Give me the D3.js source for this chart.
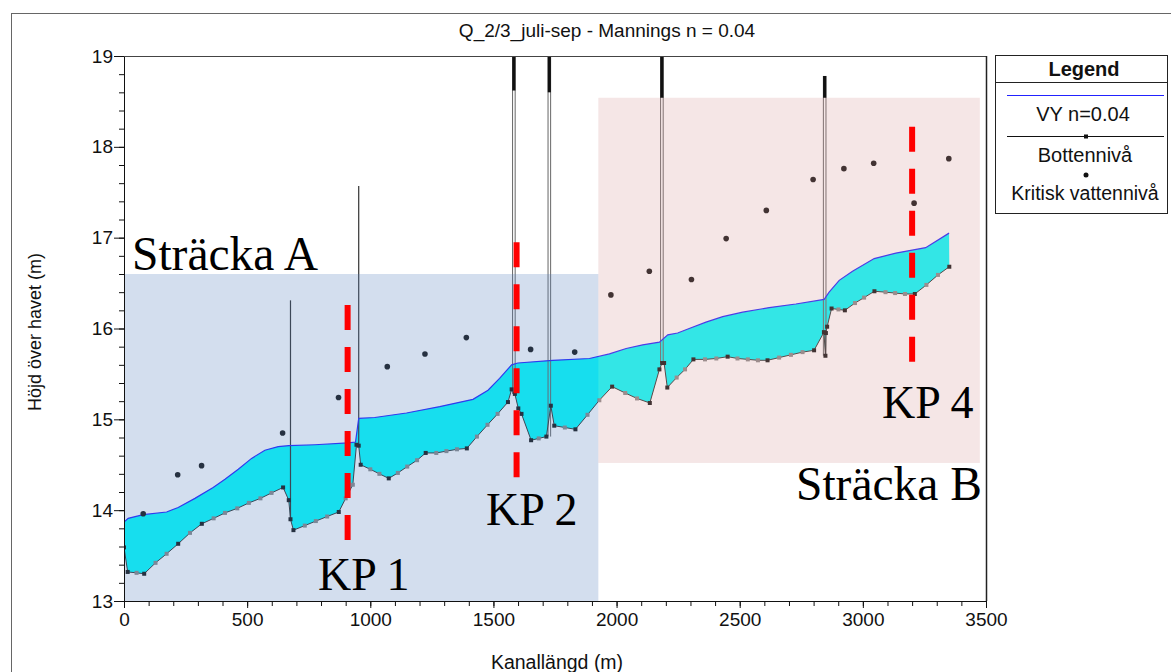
<!DOCTYPE html>
<html>
<head>
<meta charset="utf-8">
<script src="https://cdn.jsdelivr.net/npm/d3@7"></script>
<style>
  html, body { margin: 0; padding: 0; background: #fff; }
  svg { display: block; font-family: "Liberation Sans", Arial, sans-serif; }
</style>
</head>
<body>
<svg id="chart" width="1171" height="672"></svg>
<script>
// ---- Longitudinal profile data (chainage in m, level in m above sea) ----
const waterX = [0, 17, 78, 173, 220, 288, 362, 410, 464, 518, 572, 626, 669, 775, 910, 940, 953, 1018, 1147, 1282, 1417, 1478, 1525, 1574, 1599, 1741, 1890, 1971, 2039, 2106, 2174, 2208, 2248, 2295, 2363, 2431, 2512, 2620, 2728, 2843, 2863, 2904, 2958, 3046, 3134, 3255, 3350];
const waterY = [13.87, 13.91, 13.95, 13.98, 14.03, 14.13, 14.25, 14.34, 14.45, 14.57, 14.66, 14.70, 14.71, 14.72, 14.74, 14.75, 15.01, 15.02, 15.07, 15.14, 15.22, 15.32, 15.45, 15.60, 15.62, 15.65, 15.67, 15.72, 15.78, 15.82, 15.85, 15.93, 15.95, 16.00, 16.07, 16.13, 16.18, 16.23, 16.27, 16.32, 16.40, 16.53, 16.63, 16.77, 16.83, 16.89, 17.05];

const bottomX = [0, 15, 51, 82, 128, 173, 220, 268, 316, 364, 410, 460, 507, 554, 599, 646, 669, 676, 688, 734, 779, 825, 872, 900, 929, 944, 953, 961, 1000, 1037, 1075, 1112, 1150, 1190, 1225, 1268, 1309, 1352, 1392, 1433, 1476, 1517, 1559, 1574, 1587, 1601, 1614, 1653, 1684, 1715, 1733, 1747, 1790, 1833, 1882, 1930, 1982, 2035, 2083, 2135, 2174, 2185, 2193, 2206, 2244, 2278, 2312, 2359, 2405, 2451, 2491, 2533, 2574, 2613, 2660, 2708, 2755, 2802, 2842, 2848, 2850, 2855, 2873, 2901, 2927, 2968, 3005, 3047, 3092, 3131, 3171, 3211, 3258, 3305, 3351];
const bottomY = [13.59, 13.32, 13.31, 13.30, 13.42, 13.52, 13.63, 13.75, 13.85, 13.91, 13.97, 14.02, 14.08, 14.13, 14.19, 14.25, 14.11, 13.90, 13.78, 13.83, 13.88, 13.93, 13.98, 14.13, 14.28, 14.72, 14.71, 14.50, 14.45, 14.40, 14.35, 14.41, 14.48, 14.55, 14.63, 14.63, 14.65, 14.67, 14.68, 14.81, 14.94, 15.06, 15.19, 15.33, 15.28, 15.12, 15.06, 14.77, 14.79, 14.81, 15.15, 14.93, 14.91, 14.89, 15.05, 15.21, 15.36, 15.29, 15.23, 15.18, 15.55, 15.62, 15.62, 15.35, 15.46, 15.55, 15.66, 15.66, 15.67, 15.69, 15.67, 15.66, 15.65, 15.65, 15.68, 15.71, 15.74, 15.76, 15.96, 15.70, 15.95, 16.02, 16.22, 16.21, 16.20, 16.28, 16.34, 16.41, 16.40, 16.39, 16.38, 16.38, 16.48, 16.59, 16.68];
// 1 = surveyed cross section, 0 = interpolated section
const bottomSurveyed = [1, 1, 0, 1, 0, 0, 1, 0, 1, 0, 0, 0, 0, 0, 0, 1, 1, 1, 1, 0, 0, 0, 1, 0, 0, 1, 1, 1, 0, 0, 1, 0, 0, 0, 1, 0, 0, 0, 1, 0, 0, 0, 1, 1, 1, 1, 1, 1, 0, 1, 1, 1, 0, 1, 0, 0, 1, 0, 0, 1, 1, 1, 1, 1, 0, 0, 1, 0, 0, 1, 0, 0, 0, 1, 0, 0, 0, 1, 1, 1, 1, 1, 1, 0, 1, 0, 0, 1, 0, 0, 0, 1, 0, 0, 1];

const criticalX = [78, 218, 315, 644, 871, 1069, 1222, 1390, 1651, 1830, 1977, 2133, 2304, 2445, 2608, 2798, 2923, 3044, 3208, 3349];
const criticalY = [13.96, 14.39, 14.49, 14.85, 15.24, 15.58, 15.72, 15.90, 15.77, 15.74, 16.37, 16.63, 16.54, 16.99, 17.30, 17.64, 17.76, 17.82, 17.38, 17.87];

// Structures (bridges / culverts) along the canal
const structX = [676, 953, 1583, 1727, 2184, 2845];
const structBottom = [13.90, 14.71, 15.28, 14.81, 15.62, 15.70];
const structTop = [16.31, 17.57, 19.2, 19.2, 19.2, 18.78];
const structCap = [null, null, 18.62, 18.60, 18.54, 18.54];
const structDouble = [false, false, true, true, true, true];

// Reaches and control points
const reachNames = ["Sträcka A", "Sträcka B"];
const reachX0 = [0, 1926];
const reachX1 = [1926, 3475];
const reachY0 = [13, 14.52];
const reachY1 = [16.60, 18.54];

const kpNames = ["KP 1", "KP 2", "KP 4"];
const kpX = [908, 1594, 3200];
const kpTop = [16.26, 16.95, 18.22];
const kpBottom = [13.67, 14.36, 15.63];

const xTicks = [0, 500, 1000, 1500, 2000, 2500, 3000, 3500];
const yTicks = [13, 14, 15, 16, 17, 18, 19];

const titleText = "Q_2/3_juli-sep - Mannings n = 0.04";
const legendItems = ["VY n=0.04", "Bottennivå", "Kritisk vattennivå"];

// ---- Layout ----
const sans = "'Liberation Sans', Arial, sans-serif";
const serif = "'Liberation Serif', 'Times New Roman', serif";
const svg = d3.select("#chart");
const x = d3.scaleLinear().domain([0, 3500]).range([124, 986]);
const y = d3.scaleLinear().domain([13, 19]).range([601, 56]);

// outer frame
svg.append("rect").attr("x", 11.5).attr("y", 13.5).attr("width", 1200).attr("height", 700)
  .attr("fill", "none").attr("stroke", "#666").attr("stroke-width", 1);

svg.append("text").attr("x", 607).attr("y", 37).attr("text-anchor", "middle")
  .style("font-family", sans).attr("font-size", 19).attr("fill", "#111").text(titleText);

svg.append("defs").append("clipPath").attr("id", "plotClip")
  .append("rect").attr("x", 124).attr("y", 56).attr("width", 862).attr("height", 545);

const plot = svg.append("g").attr("clip-path", "url(#plotClip)");

// water body between bottom and water surface
const water = waterX.map((v, i) => [v, waterY[i]]);
const bottom = bottomX.map((v, i) => [v, bottomY[i]]);
const poly = water.concat(bottom.slice().reverse());
plot.append("path")
  .attr("d", d3.line().x(d => x(d[0])).y(d => y(d[1]))(poly) + "Z")
  .attr("fill", "#00ffff").attr("stroke", "none");

// structures
structX.forEach((sx, i) => {
  const px = x(sx);
  if (structDouble[i]) {
    [-1.3, 1.3].forEach(off => {
      plot.append("line").attr("x1", px + off).attr("x2", px + off)
        .attr("y1", y(structTop[i])).attr("y2", y(structBottom[i]))
        .attr("stroke", "#666").attr("stroke-width", 1);
    });
    plot.append("rect").attr("x", px - 1.6).attr("width", 3.2)
      .attr("y", y(structTop[i])).attr("height", y(structCap[i]) - y(structTop[i]))
      .attr("fill", "#111");
  } else {
    plot.append("line").attr("x1", px).attr("x2", px)
      .attr("y1", y(structTop[i])).attr("y2", y(structBottom[i]))
      .attr("stroke", "#333").attr("stroke-width", 1.2);
  }
});

// water surface
plot.append("path").datum(water)
  .attr("d", d3.line().x(d => x(d[0])).y(d => y(d[1])))
  .attr("fill", "none").attr("stroke", "#2222ff").attr("stroke-width", 1.2);

// bottom profile
plot.append("path").datum(bottom)
  .attr("d", d3.line().x(d => x(d[0])).y(d => y(d[1])))
  .attr("fill", "none").attr("stroke", "#333").attr("stroke-width", 1);
plot.selectAll("rect.sec").data(bottom).enter().append("rect").attr("class", "sec")
  .attr("x", d => x(d[0]) - 2).attr("y", d => y(d[1]) - 2)
  .attr("width", 4).attr("height", 4)
  .attr("fill", (d, i) => bottomSurveyed[i] ? "#151515" : "#8a8a8a");

// critical water level
plot.selectAll("circle.crit").data(criticalX).enter().append("circle").attr("class", "crit")
  .attr("cx", d => x(d)).attr("cy", (d, i) => y(criticalY[i])).attr("r", 2.8)
  .attr("fill", "#151515");

// reach overlays
const reachFill = ["rgb(87,129,190)", "rgb(215,150,150)"];
const reachOpacity = [0.263, 0.24];
reachNames.forEach((n, i) => {
  svg.append("rect")
    .attr("x", x(reachX0[i])).attr("width", x(reachX1[i]) - x(reachX0[i]))
    .attr("y", y(reachY1[i])).attr("height", y(reachY0[i]) - y(reachY1[i]))
    .attr("fill", reachFill[i]).attr("fill-opacity", reachOpacity[i]);
});

// axes
const gx = svg.append("g").attr("transform", "translate(0,601)");
gx.append("g").call(d3.axisBottom(x).tickValues(d3.range(0, 3501, 100)).tickSize(5).tickFormat(""))
  .call(g => g.select(".domain").remove());
gx.append("g").call(d3.axisBottom(x).tickValues(xTicks).tickSize(7).tickPadding(5).tickFormat(d3.format("d")))
  .call(g => g.selectAll("text").attr("font-size", 19).attr("fill", "#111").style("font-family", sans));
gx.selectAll("line, path").attr("stroke", "#111");

const gy = svg.append("g").attr("transform", "translate(124,0)");
gy.append("g").call(d3.axisLeft(y).tickValues(d3.range(13, 19.001, 0.2)).tickSize(5).tickFormat(""))
  .call(g => g.select(".domain").remove());
gy.append("g").call(d3.axisLeft(y).tickValues(yTicks).tickSize(10).tickPadding(1).tickFormat(d3.format("d")))
  .call(g => g.selectAll("text").attr("font-size", 19).attr("fill", "#111").style("font-family", sans));
gy.selectAll("line, path").attr("stroke", "#111");

// plot frame top / right
svg.append("line").attr("x1", 124).attr("x2", 986).attr("y1", 56.5).attr("y2", 56.5)
  .attr("stroke", "#444").attr("stroke-width", 1.2);
svg.append("line").attr("x1", 986.5).attr("x2", 986.5).attr("y1", 56).attr("y2", 601)
  .attr("stroke", "#222").attr("stroke-width", 1.5);

svg.append("text").attr("x", 557).attr("y", 669).attr("text-anchor", "middle")
  .style("font-family", sans).attr("font-size", 19.5).attr("fill", "#111").text("Kanallängd (m)");
svg.append("text").attr("transform", "translate(41,332) rotate(-90)").attr("text-anchor", "middle")
  .style("font-family", sans).attr("font-size", 18).attr("fill", "#111").text("Höjd över havet (m)");

// control point markers
kpNames.forEach((n, i) => {
  svg.append("line").attr("x1", x(kpX[i])).attr("x2", x(kpX[i]))
    .attr("y1", y(kpTop[i])).attr("y2", y(kpBottom[i]))
    .attr("stroke", "#ff0000").attr("stroke-width", 6).attr("stroke-dasharray", "25,17");
});

// annotations
const annX = [132, 796, 318, 486, 882];
const annY = [270, 500, 590, 525, 418];
const annSize = [47.5, 47.5, 46, 46, 46];
const annText = [reachNames[0], reachNames[1], kpNames[0], kpNames[1], kpNames[2]];
annText.forEach((t, i) => {
  svg.append("text").attr("x", annX[i]).attr("y", annY[i])
    .style("font-family", serif).attr("font-size", annSize[i]).attr("fill", "#000").text(t);
});

// legend
const lg = svg.append("g");
lg.append("rect").attr("x", 995.5).attr("y", 55.5).attr("width", 172).attr("height", 158)
  .attr("fill", "#fff").attr("stroke", "#222").attr("stroke-width", 1);
lg.append("text").attr("x", 1084).attr("y", 76).attr("text-anchor", "middle")
  .style("font-family", sans).attr("font-size", 20).attr("font-weight", "bold").attr("fill", "#111").text("Legend");
lg.append("line").attr("x1", 996).attr("x2", 1167).attr("y1", 82.5).attr("y2", 82.5)
  .attr("stroke", "#222");
lg.append("line").attr("x1", 1007).attr("x2", 1164).attr("y1", 95.5).attr("y2", 95.5)
  .attr("stroke", "#2222ff").attr("stroke-width", 1);
lg.append("text").attr("x", 1083).attr("y", 121).attr("text-anchor", "middle")
  .style("font-family", sans).attr("font-size", 20).attr("fill", "#111").text(legendItems[0]);
lg.append("line").attr("x1", 1007).attr("x2", 1164).attr("y1", 136.5).attr("y2", 136.5)
  .attr("stroke", "#111").attr("stroke-width", 1);
lg.append("rect").attr("x", 1084).attr("y", 134.5).attr("width", 4).attr("height", 4).attr("fill", "#111");
lg.append("text").attr("x", 1085).attr("y", 162).attr("text-anchor", "middle")
  .style("font-family", sans).attr("font-size", 20).attr("fill", "#111").text(legendItems[1]);
lg.append("circle").attr("cx", 1086).attr("cy", 175).attr("r", 2.5).attr("fill", "#111");
lg.append("text").attr("x", 1085).attr("y", 200).attr("text-anchor", "middle")
  .style("font-family", sans).attr("font-size", 19.5).attr("fill", "#111").text(legendItems[2]);
</script>
</body>
</html>
